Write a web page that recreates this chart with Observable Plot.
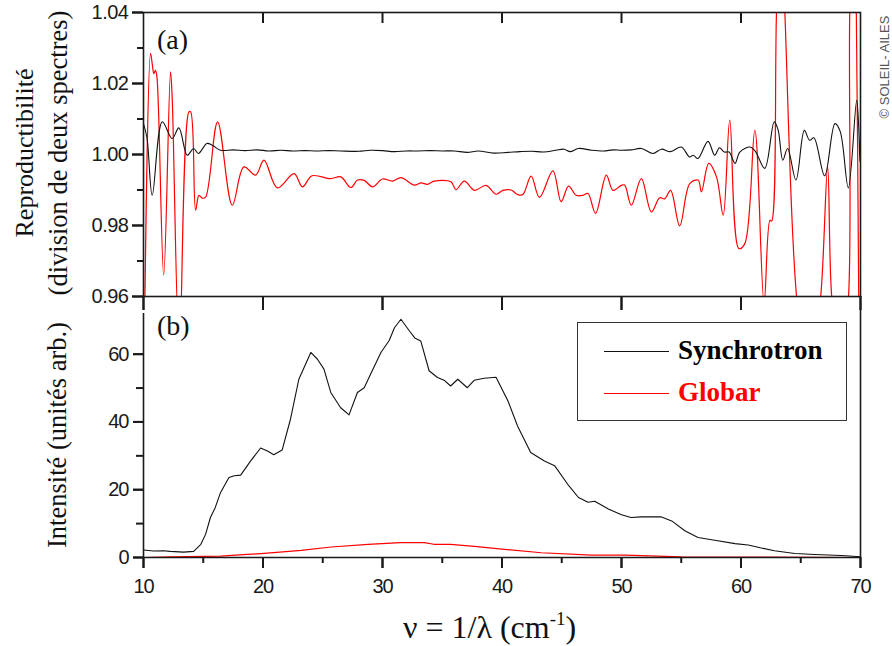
<!DOCTYPE html>
<html>
<head>
<meta charset="utf-8">
<script src="https://cdn.jsdelivr.net/npm/d3@7"></script>
<script src="https://cdn.jsdelivr.net/npm/@observablehq/plot@0.6"></script>
<style>
  html, body { margin: 0; padding: 0; background: #fff; }
  #chart { position: relative; width: 892px; height: 646px; background: #fff; }
  .panel { position: absolute; left: 0; top: 0; }
  .lbl { position: absolute; white-space: nowrap; color: #111; font-family: "Liberation Serif", "Times New Roman", serif; line-height: 1; }
  .rot { transform: translate(-50%, -50%) rotate(-90deg); }
  .legend { position: absolute; left: 577px; top: 322px; width: 268px; height: 97px; border: 1.5px solid #333; background: #fff; }
  .legend .sw { position: absolute; left: 26px; width: 65px; height: 0; border-top: 1.3px solid; }
  .legend .ltx { position: absolute; left: 100px; font-family: "Liberation Serif", "Times New Roman", serif; font-weight: bold; font-size: 27px; line-height: 1; }
</style>
</head>
<body>
<div id="chart"></div>
<script>
// ---- Panel (a): reproducibility ratio (division of two spectra) ----
const ratioSynchroNu = [10.0, 10.3, 10.73, 11.57, 12.4, 12.96, 13.66, 14.2, 14.6, 15.3, 15.76, 16.45, 17.5, 18.5, 19.5, 20.5, 21.5, 22.5, 23.5, 24.5, 25.5, 26.5, 28.0, 29.0, 30.0, 31.0, 32.0, 33.0, 34.0, 35.0, 36.0, 37.1, 38.0, 39.3, 40.5, 41.5, 42.5, 43.5, 44.5, 45.2, 45.7, 46.4, 47.5, 48.5, 49.3, 50.0, 50.8, 51.66, 52.64, 53.34, 54.1, 55.0, 55.7, 56.0, 56.4, 57.24, 57.8, 58.2, 58.6, 59.0, 59.5, 59.9, 60.76, 61.2, 61.99, 62.78, 63.1, 63.5, 63.9, 64.6, 65.3, 65.74, 66.1, 67.0, 67.86, 68.3, 68.98, 69.68, 69.85, 69.95, 70.0];
const ratioSynchroVal = [1.0087, 1.0045, 0.9885, 1.0092, 1.0045, 1.0075, 0.9998, 1.0017, 1.0003, 1.0031, 1.0026, 1.0012, 1.0013, 1.0011, 1.0013, 1.0010, 1.0012, 1.0010, 1.0011, 1.0010, 1.0011, 1.0010, 1.0009, 1.0012, 1.0011, 1.0008, 1.0010, 1.0010, 1.0011, 1.0010, 1.0010, 1.0006, 1.0010, 1.0004, 1.0006, 1.0008, 1.0009, 1.0007, 1.0012, 1.0015, 1.0008, 1.0017, 1.0012, 1.0010, 1.0013, 1.0012, 1.0013, 1.0017, 1.0003, 1.0015, 1.0008, 1.0021, 0.9993, 0.9998, 0.9989, 1.0037, 0.9998, 1.0019, 1.0007, 1.0007, 0.9975, 1.0007, 1.0021, 1.0009, 0.9961, 1.0092, 1.0070, 0.9984, 1.0017, 0.9928, 1.0068, 1.0040, 1.0047, 0.9940, 1.0087, 1.0065, 0.9906, 1.0153, 1.0077, 0.9980, 1.0050];

const ratioGlobarNu = [10.05, 10.59, 10.75, 10.86, 11.0, 11.12, 11.69, 12.26, 12.4, 13.0, 13.8, 13.95, 14.36, 14.64, 14.92, 15.2, 16.2, 17.43, 18.4, 19.38, 20.08, 21.2, 22.6, 23.3, 24.1, 25.67, 26.51, 27.35, 27.91, 28.47, 29.17, 30.0, 30.85, 31.54, 32.66, 33.22, 33.78, 34.33, 35.73, 36.15, 36.85, 37.69, 38.67, 39.51, 40.07, 40.76, 41.32, 41.74, 42.44, 43.13, 44.26, 44.95, 45.57, 46.21, 46.77, 47.19, 47.83, 48.73, 49.29, 49.98, 50.26, 50.82, 51.66, 52.5, 53.19, 53.61, 54.11, 54.87, 55.71, 56.41, 56.69, 57.3, 57.95, 58.51, 59.06, 59.82, 60.32, 61.16, 61.93, 62.42, 62.56, 62.97, 63.32, 63.67, 64.65, 65.7, 66.67, 67.25, 67.59, 68.35, 69.0, 69.1, 69.4, 69.65, 69.85, 70.0];
const ratioGlobarVal = [0.940, 1.0285, 1.0250, 1.0228, 1.0237, 1.0220, 0.9660, 1.0233, 1.0160, 0.9450, 1.0120, 1.0120, 0.9843, 0.9885, 0.9877, 0.9880, 1.0092, 0.9857, 0.9965, 0.9942, 0.9984, 0.9906, 0.9946, 0.9909, 0.9940, 0.9932, 0.9937, 0.9907, 0.9928, 0.9927, 0.9909, 0.9931, 0.9925, 0.9935, 0.9914, 0.9920, 0.9916, 0.9925, 0.9923, 0.9901, 0.9925, 0.9899, 0.9913, 0.9888, 0.9899, 0.9900, 0.9887, 0.9887, 0.9939, 0.9879, 0.9954, 0.9867, 0.9911, 0.9885, 0.9885, 0.9890, 0.9834, 0.9942, 0.9899, 0.9913, 0.9914, 0.9857, 0.9932, 0.9838, 0.9878, 0.9875, 0.9899, 0.9799, 0.9918, 0.9928, 0.9895, 0.9975, 0.9937, 0.9829, 1.0097, 0.9735, 0.9749, 1.0068, 0.9580, 0.9815, 0.9812, 1.0400, 1.0700, 1.0400, 0.9600, 0.9350, 0.9600, 0.9965, 0.9600, 0.9400, 0.9600, 1.0400, 1.0700, 1.0400, 0.9600, 0.9300];

// ---- Panel (b): intensity (arb. units) ----
const intSynchroNu = [10.0, 10.84, 11.68, 12.24, 13.36, 14.2, 14.8, 15.2, 15.6, 16.0, 16.45, 17.15, 17.6, 18.13, 18.97, 19.8, 20.37, 20.9, 21.6, 22.3, 23.0, 24.0, 24.56, 25.1, 25.67, 26.5, 27.2, 27.9, 28.47, 29.0, 29.87, 30.57, 31.0, 31.54, 32.24, 32.7, 33.2, 33.9, 34.6, 35.2, 35.7, 36.3, 37.1, 37.67, 38.5, 39.5, 40.5, 41.3, 42.4, 43.55, 44.4, 45.5, 46.4, 47.2, 47.76, 48.9, 50.0, 50.8, 51.66, 53.3, 54.2, 55.3, 56.4, 57.8, 59.5, 60.6, 61.7, 62.8, 64.5, 66.2, 68.4, 70.0];
const intSynchroVal = [2.2, 1.9, 2.0, 1.8, 1.6, 1.8, 3.9, 6.9, 11.8, 14.7, 19.2, 23.6, 24.1, 24.3, 28.5, 32.3, 31.4, 30.3, 31.7, 40.8, 52.6, 60.5, 58.5, 55.6, 48.7, 44.2, 42.1, 48.7, 50.1, 54.1, 60.5, 64.1, 67.8, 70.3, 66.9, 64.8, 63.9, 55.1, 53.1, 52.2, 50.6, 52.6, 50.1, 52.3, 52.9, 53.2, 46.2, 38.8, 31.0, 28.5, 27.1, 21.6, 17.7, 16.3, 16.6, 14.3, 12.6, 11.8, 12.0, 12.0, 10.8, 7.9, 5.9, 5.1, 4.1, 3.7, 2.8, 2.0, 1.2, 0.9, 0.6, 0.2];

const intGlobarNu = [10.0, 12.3, 16.45, 18.7, 20.1, 23.2, 25.7, 28.8, 31.5, 33.5, 34.3, 35.7, 37.7, 40.2, 43.3, 47.5, 50.3, 55.0, 62.0, 70.0];
const intGlobarVal = [0.0, 0.2, 0.4, 0.9, 1.2, 2.1, 3.1, 3.9, 4.4, 4.4, 3.9, 3.9, 3.3, 2.4, 1.4, 0.7, 0.7, 0.2, 0.1, 0.0];

// ---- ticks ----
const xMajorTicks = [10, 20, 30, 40, 50, 60, 70];
const xMinorTicks = [15, 25, 35, 45, 55, 65];
const xTopTicks = [20, 30, 40, 50, 60];
const yTopMajor = [0.96, 0.98, 1.00, 1.02, 1.04];
const yTopMinor = [0.97, 0.99, 1.01, 1.03];
const yBotMajor = [0, 20, 40, 60];
const yBotMinor = [10, 30, 50];

const seriesNames = ["Synchrotron", "Globar"];
const seriesColors = ["#111111", "#ff0000"];

const axisColor = "#1a1a1a";
const noText = () => "";
const tickFont = "'Liberation Sans', Arial, Helvetica, sans-serif";

// layout (pixels)
const W = 892, ML = 143, MR = 32;
const xDomain = [10, 70];
const topDomain = [0.96, 1.04], topMT = 12, topH = 312, topMB = 16;
const botDomain = [0, 72], botMT = 313, botH = 646, botMB = 89;
const pxPerX = (W - ML - MR) / (xDomain[1] - xDomain[0]);
const pxPerTop = (topH - topMT - topMB) / (topDomain[1] - topDomain[0]);
const pxPerBot = (botH - botMT - botMB) / (botDomain[1] - botDomain[0]);
const leftTickEnd = px => xDomain[0] - px / pxPerX;
const tickStyle = {stroke: axisColor, strokeWidth: 2};
const lineAxisStyle = {stroke: axisColor, strokeWidth: 1.6};

const chartEl = document.getElementById("chart");

function addLabel(html, css, cls) {
  const d = document.createElement("div");
  d.className = "lbl" + (cls ? " " + cls : "");
  d.innerHTML = html;
  Object.assign(d.style, css);
  chartEl.appendChild(d);
  return d;
}
// labels first so that the chart SVGs paint above them
addLabel("Reproductibilité", {left: "25px", top: "153px", fontSize: "26px"}, "rot");
addLabel("(division de deux spectres)", {left: "58px", top: "153px", fontSize: "26.5px"}, "rot");
addLabel("Intensité (unités arb.)", {left: "57px", top: "435px", fontSize: "26.5px"}, "rot");
addLabel("ν = 1/λ (cm<sup style='font-size:19px;vertical-align:13px'>-1</sup>)", {left: "403px", top: "609px", fontSize: "32px"});
addLabel("(a)", {left: "157px", top: "26px", fontSize: "28px"});
addLabel("(b)", {left: "157px", top: "312px", fontSize: "28px"});
addLabel("© SOLEIL- AILES", {left: "884px", top: "67px", fontSize: "13px", color: "#555", fontFamily: "'Liberation Sans', Arial, sans-serif"}, "rot");

function addPanel(svg) {
  const wrap = document.createElement("div");
  wrap.className = "panel";
  wrap.appendChild(svg);
  chartEl.appendChild(wrap);
}

// Bottom panel (b)
const bottomPlot = Plot.plot({
  width: W, height: botH,
  marginTop: botMT, marginBottom: botMB, marginLeft: ML, marginRight: MR,
  x: {domain: xDomain},
  y: {domain: botDomain},
  style: {fontFamily: tickFont, fontSize: "20px", background: "transparent", overflow: "visible", letterSpacing: "-1px"},
  marks: [
    Plot.line(intGlobarVal, {x: intGlobarNu, y: intGlobarVal, stroke: seriesColors[1], strokeWidth: 1.2}),
    Plot.line(intSynchroVal, {x: intSynchroNu, y: intSynchroVal, stroke: seriesColors[0], strokeWidth: 1.1}),
    Plot.ruleX([10], lineAxisStyle),
    Plot.ruleX([70], {y1: 0, y2: 73, ...lineAxisStyle}),
    Plot.ruleY([0], lineAxisStyle),
    // tick marks
    Plot.ruleY(yBotMajor, {x1: xDomain[0], x2: leftTickEnd(10), ...tickStyle}),
    Plot.ruleY(yBotMinor, {x1: xDomain[0], x2: leftTickEnd(7), ...tickStyle}),
    Plot.ruleX(xMajorTicks, {y1: 0, y2: -11 / pxPerBot, ...tickStyle}),
    Plot.ruleX(xMinorTicks, {y1: 0, y2: -6 / pxPerBot, ...tickStyle}),
    // tick labels
    Plot.axisY({ticks: yBotMajor, tickSize: 10, tickPadding: 5, label: null, color: axisColor, strokeWidth: 2, fontSize: 20}),
    Plot.axisX({ticks: xMajorTicks, tickSize: 11, tickPadding: 10, label: null, color: axisColor, strokeWidth: 2, fontSize: 20})
  ]
});
addPanel(bottomPlot);

// Top panel (a)
const topPlot = Plot.plot({
  width: W, height: topH,
  marginTop: topMT, marginBottom: topMB, marginLeft: ML, marginRight: MR,
  x: {domain: xDomain},
  y: {domain: topDomain},
  style: {fontFamily: tickFont, fontSize: "20px", background: "transparent", overflow: "visible", letterSpacing: "-0.5px"},
  marks: [
    Plot.line(ratioGlobarVal, {x: ratioGlobarNu, y: ratioGlobarVal, stroke: seriesColors[1], strokeWidth: 1.2, curve: "catmull-rom", clip: true}),
    Plot.line(ratioSynchroVal, {x: ratioSynchroNu, y: ratioSynchroVal, stroke: seriesColors[0], strokeWidth: 1.1, curve: "catmull-rom", clip: true}),
    Plot.frame({stroke: axisColor, strokeWidth: 1.6}),
    // tick marks
    Plot.ruleY(yTopMajor, {x1: xDomain[0], x2: leftTickEnd(11), ...tickStyle}),
    Plot.ruleY(yTopMinor, {x1: xDomain[0], x2: leftTickEnd(6), ...tickStyle}),
    Plot.ruleX(xMajorTicks, {y1: topDomain[0], y2: topDomain[0] - 14 / pxPerTop, ...tickStyle}),
    Plot.ruleX(xTopTicks, {y1: topDomain[1], y2: topDomain[1] - 11 / pxPerTop, ...tickStyle}),
    // tick labels
    Plot.axisY({ticks: yTopMajor, tickSize: 11, tickPadding: 4, tickFormat: d3.format(".2f"), label: null, color: axisColor, strokeWidth: 2, fontSize: 20}),
    Plot.axisX({ticks: xMajorTicks, anchor: "bottom", tickSize: 14, tickFormat: noText, label: null, color: axisColor, strokeWidth: 2})
  ]
});
addPanel(topPlot);

// Legend
const leg = document.createElement("div");
leg.className = "legend";
seriesNames.forEach((name, i) => {
  const sw = document.createElement("div");
  sw.className = "sw";
  sw.style.top = (i === 0 ? 28 : 70) + "px";
  sw.style.borderTopColor = seriesColors[i];
  leg.appendChild(sw);
  const t = document.createElement("div");
  t.className = "ltx";
  t.style.top = (i === 0 ? 14 : 56) + "px";
  t.style.color = i === 0 ? "#000" : seriesColors[i];
  t.textContent = name;
  leg.appendChild(t);
});
chartEl.appendChild(leg);
</script>
</body>
</html>
